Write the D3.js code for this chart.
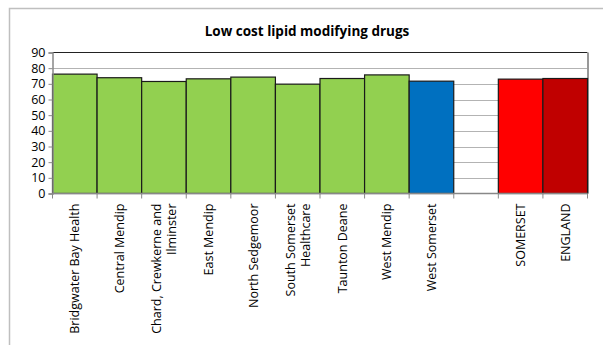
<!DOCTYPE html>
<html><head><meta charset="utf-8">
<script src="https://cdn.jsdelivr.net/npm/d3@7"></script>
<style>body{margin:0;background:#fff}svg{display:block}text{font-family:"Open Sans",Calibri,sans-serif}</style>
</head><body><svg id="c" width="603" height="345"></svg>
<script>
const categories = [["Bridgwater Bay Health"],["Central Mendip"],["Chard, Crewkerne and","Ilminster"],["East Mendip"],["North Sedgemoor"],["South Somerset","Healthcare"],["Taunton Deane"],["West Mendip"],["West Somerset"],[""],["SOMERSET"],["ENGLAND"]];
const values = [76.2, 73.9, 71.5, 73.2, 74.3, 69.8, 73.4, 75.7, 71.7, null, 73.0, 73.4];
const colors = ["#92D050","#92D050","#92D050","#92D050","#92D050","#92D050","#92D050","#92D050","#0070C0",null,"#FF0000","#C00000"];
const yTicks = [0,10,20,30,40,50,60,70,80,90];
const title = "Low cost lipid modifying drugs";

const svg = d3.select("#c");
svg.append("rect").attr("x",9.5).attr("y",8.5).attr("width",620).attr("height",360).attr("fill","#fff").attr("stroke","#bfbfbf").attr("stroke-width",1.5);
const L=52.5, R=587.5, T=52.5, B=193.5;
const x = d3.scaleBand().domain(d3.range(categories.length)).range([L,R]).padding(0);
const y = d3.scaleLinear().domain([0,90]).range([B,T]);

svg.append("text").attr("x",307).attr("y",36).attr("text-anchor","middle").attr("font-weight","bold").attr("font-size","13.5px").text(title);

// gridlines
svg.append("g").selectAll("line").data(yTicks.filter(d=>d>0&&d<90)).join("line")
  .attr("x1",L).attr("x2",R).attr("y1",d=>Math.round(y(d))+0.5).attr("y2",d=>Math.round(y(d))+0.5)
  .attr("stroke","#b3b3b3").attr("stroke-width",1);
svg.append("line").attr("x1",L).attr("x2",R).attr("y1",T).attr("y2",T).attr("stroke","#222").attr("stroke-width",1.2);
svg.append("line").attr("x1",R+0.5).attr("x2",R+0.5).attr("y1",T).attr("y2",B).attr("stroke","#999").attr("stroke-width",2);

// bars
const idx = d3.range(categories.length).filter(i=>values[i]!=null);
svg.append("g").selectAll("rect").data(idx).join("rect")
  .attr("x",i=>x(i)).attr("width",x.bandwidth())
  .attr("y",i=>y(values[i])).attr("height",i=>B-y(values[i]))
  .attr("fill",i=>colors[i]).attr("stroke","#1a1a1a").attr("stroke-width",1.2);

// y axis
const ya = svg.append("g").attr("transform",`translate(${L},0)`)
  .call(d3.axisLeft(y).tickValues(yTicks).tickSize(4).tickPadding(3));
ya.select(".domain").attr("stroke","#888").attr("stroke-width",1.5);
ya.selectAll(".tick line").attr("stroke","#888");
ya.selectAll(".tick text").attr("font-size","12.5px").attr("fill","#000").attr("font-family","Open Sans, sans-serif");

// x axis
const xa = svg.append("g").attr("transform",`translate(0,${B})`);
xa.append("line").attr("x1",L).attr("x2",R).attr("stroke","#888").attr("stroke-width",1.5);
xa.selectAll("line.t").data(d3.range(categories.length+1)).join("line").attr("class","t")
  .attr("x1",i=>L+i*x.bandwidth()).attr("x2",i=>L+i*x.bandwidth()).attr("y1",0).attr("y2",5).attr("stroke","#888");
const lab = xa.selectAll("g.l").data(d3.range(categories.length)).join("g").attr("class","l")
  .attr("transform",i=>`translate(${x(i)+x.bandwidth()/2},10) rotate(-90)`);
lab.each(function(i){
  const lines = categories[i];
  const lh = 15;
  const t = d3.select(this).append("text").attr("text-anchor","end").attr("font-size","12.5px").attr("fill","#000");
  lines.forEach((s,k)=>{
    t.append("tspan").attr("x",0).attr("y",(k-(lines.length-1)/2)*lh + 4.5).text(s);
  });
});
</script></body></html>
